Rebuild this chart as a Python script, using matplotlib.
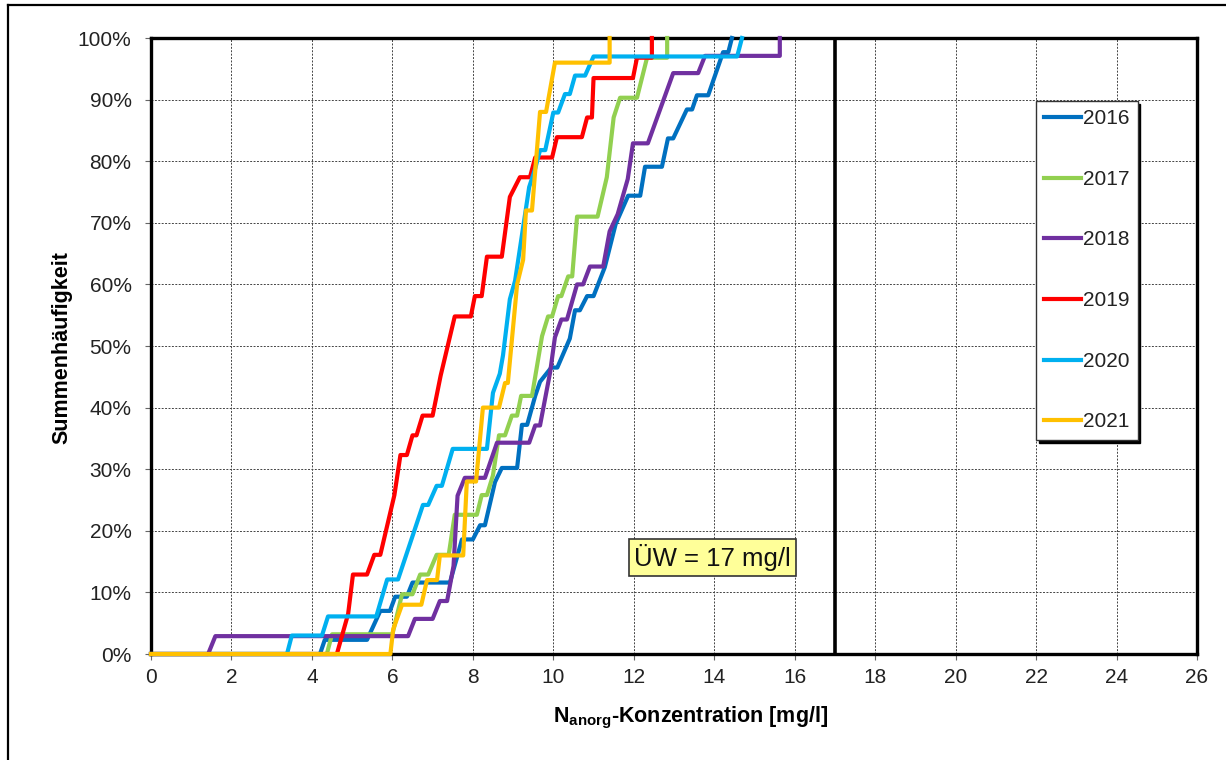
import matplotlib
matplotlib.use("Agg")
import matplotlib.pyplot as plt
from matplotlib.ticker import MultipleLocator, PercentFormatter
from matplotlib.lines import Line2D

plt.rcParams['font.family'] = ['Liberation Sans', 'DejaVu Sans']
plt.rcParams['mathtext.fontset'] = 'custom'
plt.rcParams['mathtext.rm'] = 'Liberation Sans'
plt.rcParams['mathtext.bf'] = 'Liberation Sans:bold'

# cumulative frequency curves (x = concentration mg/l, y = %)
x_2016 = [0, 4.2, 4.32, 5.37, 5.7, 5.94, 6.07, 6.36, 6.5, 7.43, 7.73, 8.0, 8.18, 8.3, 8.55, 8.72, 9.1,
          9.22, 9.35, 9.55, 9.67, 9.95, 10.1, 10.41, 10.54, 10.66, 10.84, 11.0, 11.28, 11.55, 11.86,
          12.16, 12.28, 12.7, 12.85, 12.98, 13.32, 13.45, 13.57, 13.85, 14.22, 14.35, 14.44]
y_2016 = [0, 0, 2.3, 2.3, 7.0, 7.0, 9.3, 9.3, 11.6, 11.6, 18.6, 18.6, 20.9, 20.9, 27.9, 30.2, 30.2,
          37.2, 37.2, 41.9, 44.2, 46.5, 46.5, 51.2, 55.8, 55.8, 58.1, 58.1, 62.8, 69.8, 74.4,
          74.4, 79.1, 79.1, 83.7, 83.7, 88.4, 88.4, 90.7, 90.7, 97.7, 97.7, 100]

x_2017 = [0, 4.37, 4.5, 6.0, 6.24, 6.5, 6.69, 6.89, 7.1, 7.4, 7.55, 8.1, 8.22, 8.35, 8.5, 8.65, 8.8,
          8.97, 9.1, 9.2, 9.47, 9.72, 9.87, 9.97, 10.12, 10.2, 10.37, 10.47, 10.59, 11.1, 11.33,
          11.5, 11.66, 12.08, 12.33, 12.83, 12.83]
y_2017 = [0, 0, 3.2, 3.2, 9.7, 9.7, 12.9, 12.9, 16.1, 16.1, 22.6, 22.6, 25.8, 25.8, 29.0, 35.5, 35.5,
          38.7, 38.7, 41.9, 41.9, 51.6, 54.8, 54.8, 58.1, 58.1, 61.3, 61.3, 71.0, 71.0, 77.4,
          87.1, 90.3, 90.3, 96.8, 96.8, 100]

x_2018 = [0, 1.42, 1.6, 6.39, 6.56, 7.0, 7.18, 7.36, 7.52, 7.62, 7.8, 8.3, 8.6, 9.4, 9.55, 9.67,
          9.92, 10.04, 10.2, 10.34, 10.59, 10.74, 10.91, 11.24, 11.4, 11.6, 11.85, 11.98, 12.35,
          12.98, 13.6, 13.77, 15.63, 15.63]
y_2018 = [0, 0, 2.9, 2.9, 5.7, 5.7, 8.6, 8.6, 14.3, 25.7, 28.6, 28.6, 34.3, 34.3, 37.1, 37.1,
          45.7, 51.4, 54.3, 54.3, 60.0, 60.0, 62.9, 62.9, 68.6, 71.4, 77.1, 82.9, 82.9,
          94.3, 94.3, 97.1, 97.1, 100]

x_2019 = [0, 4.62, 4.9, 5.02, 5.37, 5.55, 5.7, 6.05, 6.2, 6.36, 6.5, 6.6, 6.75, 7.0, 7.2, 7.55,
          7.95, 8.05, 8.22, 8.35, 8.72, 8.92, 9.17, 9.42, 9.55, 9.97, 10.09, 10.71, 10.84, 10.96,
          11.0, 11.98, 12.08, 12.45, 12.45]
y_2019 = [0, 0, 6.5, 12.9, 12.9, 16.1, 16.1, 25.8, 32.3, 32.3, 35.5, 35.5, 38.7, 38.7, 45.2, 54.8,
          54.8, 58.1, 58.1, 64.5, 64.5, 74.2, 77.4, 77.4, 80.6, 80.6, 83.9, 83.9, 87.1, 87.1,
          93.5, 93.5, 96.8, 96.8, 100]

x_2020 = [0, 3.38, 3.5, 4.25, 4.4, 5.6, 5.87, 6.14, 6.76, 6.89, 7.1, 7.23, 7.5, 8.35, 8.45, 8.5,
          8.67, 8.75, 8.92, 9.05, 9.4, 9.55, 9.67, 9.8, 10.0, 10.12, 10.29, 10.41, 10.54, 10.79,
          11.0, 14.57, 14.69]
y_2020 = [0, 0, 3.0, 3.0, 6.1, 6.1, 12.1, 12.1, 24.2, 24.2, 27.3, 27.3, 33.3, 33.3, 39.4, 42.4,
          45.5, 48.5, 57.6, 60.6, 75.8, 78.8, 81.8, 81.8, 87.9, 87.9, 90.9, 90.9, 93.9, 93.9,
          97.0, 97.0, 100]

x_2021 = [0, 5.95, 6.02, 6.24, 6.72, 6.86, 7.11, 7.18, 7.76, 7.85, 8.08, 8.25, 8.65, 8.8, 8.87,
          9.1, 9.25, 9.32, 9.47, 9.67, 9.82, 10.04, 11.4, 11.4]
y_2021 = [0, 0, 4, 8, 8, 12, 12, 16, 16, 28, 28, 40, 40, 44, 44,
          60, 64, 72, 72, 88, 88, 96, 96, 100]

years = ['2016', '2017', '2018', '2019', '2020', '2021']
xs = [x_2016, x_2017, x_2018, x_2019, x_2020, x_2021]
ys = [y_2016, y_2017, y_2018, y_2019, y_2020, y_2021]
colors = ['#0070C0', '#92D050', '#7030A0', '#FF0000', '#00B0F0', '#FFC000']

limit_value = 17

fig = plt.figure(figsize=(12.26, 7.6), dpi=100)
ax = fig.add_axes([151/1226, 1 - 654/760, 1046/1226, 616/760])

for year, x, y, c in zip(years, xs, ys, colors):
    ax.plot(x, y, color=c, lw=3, label=year, zorder=3, clip_on=False,
            solid_joinstyle='round')

ax.axvline(limit_value, color='black', lw=2.6, zorder=4)

ax.set_xlim(0, 26)
ax.set_ylim(0, 100)
ax.xaxis.set_major_locator(MultipleLocator(2))
ax.yaxis.set_major_locator(MultipleLocator(10))
ax.yaxis.set_major_formatter(PercentFormatter(decimals=0))
ax.grid(True, color='#444444', linestyle=(0, (2, 1.5)), lw=0.7)
ax.set_axisbelow(True)

for s in ax.spines.values():
    s.set_linewidth(2.4)
    s.set_color('black')

ax.tick_params(axis='both', direction='out', length=4, width=0.8, color='#666666',
               labelsize=15, colors='#222222')
ax.tick_params(axis='y', pad=10)
ax.tick_params(axis='x', pad=6)
ax.tick_params(axis='both', color='#666666')

fig.text(62/1226, 1 - 348/760, 'Summenhäufigkeit', rotation=90, ha='center', va='center',
         fontsize=15.5, fontweight='bold')
fig.text(691/1226, 1 - 718/760, r'$\mathbf{N_{anorg}}$-Konzentration [mg/l]',
         ha='center', va='center', fontsize=15.5, fontweight='bold')

ax.text(13.95, 15.7, 'ÜW = 17 mg/l', ha='center', va='center', fontsize=18.5, color='#111111',
        zorder=5, bbox=dict(boxstyle='square,pad=0.2', facecolor='#FFFF99',
                            edgecolor='#333333', lw=1.2))

handles = [Line2D([0], [0], color=c, lw=3) for c in colors]
leg = ax.legend(handles, years, loc='upper left', bbox_to_anchor=(0.846, 0.898),
                fontsize=15, frameon=True, fancybox=False, framealpha=1,
                edgecolor='#333333', labelspacing=2.0, handlelength=1.75,
                handletextpad=0.1, borderpad=0.4, borderaxespad=0,
                shadow={'color': 'black', 'alpha': 1.0})
leg.get_frame().set_linewidth(1.0)
for t in leg.get_texts():
    t.set_color('#222222')

# outer frame (only left and top visible in the original crop)
fig.add_artist(Line2D([8/1226, 8/1226], [0, 1 - 5/760], color='black', lw=1.6,
                      transform=fig.transFigure))
fig.add_artist(Line2D([8/1226, 1], [1 - 5/760, 1 - 5/760], color='black', lw=1.6,
                      transform=fig.transFigure))

fig.savefig('out.png', dpi=100)
